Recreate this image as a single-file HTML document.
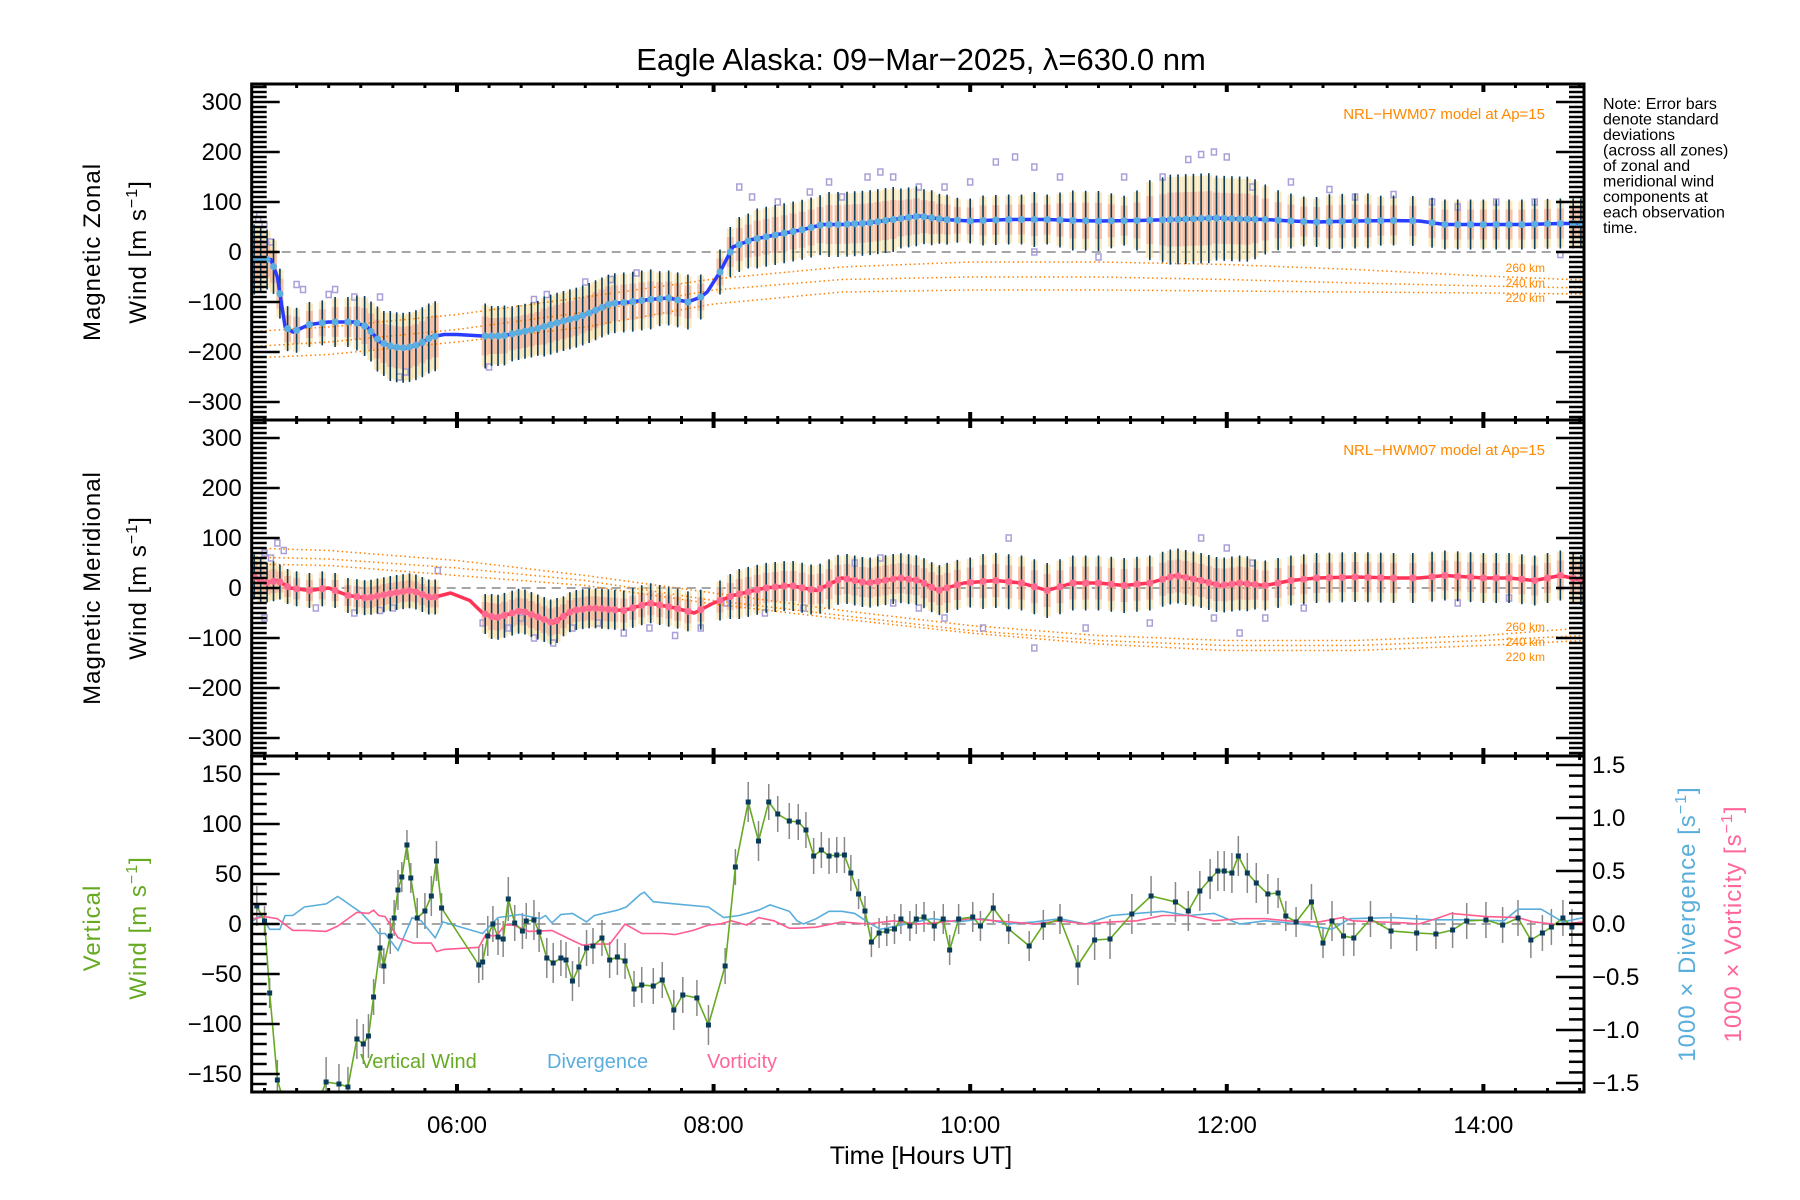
<!DOCTYPE html>
<html><head><meta charset="utf-8"><style>
html,body{margin:0;padding:0;background:#fff;}
svg{display:block;font-family:"Liberation Sans",sans-serif;}
</style></head><body>
<svg id="chart" width="1800" height="1200" viewBox="0 0 1800 1200" xmlns="http://www.w3.org/2000/svg">
<defs>
<clipPath id="clipP1"><rect x="252" y="84" width="1332" height="336"/></clipPath>
<clipPath id="clipP2"><rect x="252" y="420" width="1332" height="336"/></clipPath>
<clipPath id="clipP3"><rect x="252" y="756" width="1332" height="336"/></clipPath>
</defs>
<text x="921" y="70" font-size="31" text-anchor="middle">Eagle Alaska: 09−Mar−2025, λ=630.0 nm</text>
<g font-size="16">
<text x="1603" y="109">Note: Error bars</text>
<text x="1603" y="124.5">denote standard</text>
<text x="1603" y="140">deviations</text>
<text x="1603" y="155.5">(across all zones)</text>
<text x="1603" y="171">of zonal and</text>
<text x="1603" y="186.5">meridional wind</text>
<text x="1603" y="202">components at</text>
<text x="1603" y="217.5">each observation</text>
<text x="1603" y="233">time.</text>
</g>
<g id="p1" clip-path="url(#clipP1)"></g>
<g id="p2" clip-path="url(#clipP2)"></g>
<g id="p3" clip-path="url(#clipP3)"></g>
<g id="axes"></g>
<g font-size="24" letter-spacing="1">
<text transform="translate(100,252) rotate(-90)" text-anchor="middle">Magnetic Zonal</text>
<text transform="translate(146,252) rotate(-90)" text-anchor="middle">Wind [m s<tspan dy="-9" font-size="16">−1</tspan><tspan dy="9">]</tspan></text>
<text transform="translate(100,588) rotate(-90)" text-anchor="middle">Magnetic Meridional</text>
<text transform="translate(146,588) rotate(-90)" text-anchor="middle">Wind [m s<tspan dy="-9" font-size="16">−1</tspan><tspan dy="9">]</tspan></text>
<text transform="translate(100,928) rotate(-90)" text-anchor="middle" fill="#66aa22">Vertical</text>
<text transform="translate(146,928) rotate(-90)" text-anchor="middle" fill="#66aa22">Wind [m s<tspan dy="-9" font-size="16">−1</tspan><tspan dy="9">]</tspan></text>
<text transform="translate(1695,924) rotate(-90)" text-anchor="middle" fill="#5aaedc">1000 × Divergence [s<tspan dy="-9" font-size="16">−1</tspan><tspan dy="9">]</tspan></text>
<text transform="translate(1741,924) rotate(-90)" text-anchor="middle" fill="#ff6699">1000 × Vorticity [s<tspan dy="-9" font-size="16">−1</tspan><tspan dy="9">]</tspan></text>
</g>
<text x="921" y="1164" font-size="25" text-anchor="middle">Time [Hours UT]</text>
<g font-size="15" fill="#ff8800">
<text x="1545" y="119" text-anchor="end">NRL−HWM07 model at Ap=15</text>
<text x="1545" y="455" text-anchor="end">NRL−HWM07 model at Ap=15</text>
<g font-size="12">
<text x="1545" y="272" text-anchor="end">260 km</text>
<text x="1545" y="287" text-anchor="end">240 km</text>
<text x="1545" y="302" text-anchor="end">220 km</text>
<text x="1545" y="631" text-anchor="end">260 km</text>
<text x="1545" y="646" text-anchor="end">240 km</text>
<text x="1545" y="661" text-anchor="end">220 km</text>
</g></g>
<g font-size="20">
<text x="360" y="1068" fill="#66aa22">Vertical Wind</text>
<text x="547" y="1068" fill="#5aaedc">Divergence</text>
<text x="707" y="1068" fill="#ff6699">Vorticity</text>
</g>
</svg>
<script>
// ---------- DATA ----------
const zMeanT=[4.40,4.50,4.55,4.60,4.66,4.72,4.85,5.0,5.2,5.3,5.4,5.5,5.6,5.7,5.8,5.9,6.0,6.2,6.35,6.5,6.6,6.8,6.95,7.05,7.2,7.35,7.5,7.65,7.8,7.9,7.95,8.05,8.15,8.3,8.5,8.7,8.85,9.0,9.2,9.4,9.6,9.8,10.0,10.3,10.6,10.8,11.0,11.3,11.6,11.9,12.1,12.3,12.5,12.7,13.0,13.3,13.5,13.7,14.0,14.3,14.6,14.78];
const zMeanV=[-15,-15,-15,-50,-150,-160,-145,-140,-140,-150,-180,-190,-192,-185,-170,-165,-165,-168,-168,-160,-155,-140,-130,-120,-103,-100,-95,-92,-100,-90,-80,-40,10,25,35,45,55,55,58,65,72,65,62,65,65,63,62,63,65,68,66,65,62,60,62,63,62,55,55,55,57,57];
const obsT=[4.42,4.47,4.52,4.57,4.62,4.68,4.75,4.85,4.95,5.05,5.15,5.22,5.28,5.33,5.38,5.43,5.48,5.53,5.58,5.63,5.68,5.73,5.78,5.83,6.22,6.27,6.32,6.37,6.43,6.48,6.53,6.58,6.63,6.68,6.73,6.78,6.83,6.88,6.93,6.98,7.03,7.08,7.13,7.18,7.23,7.3,7.37,7.44,7.51,7.58,7.65,7.72,7.8,7.9,8.05,8.13,8.2,8.27,8.34,8.41,8.48,8.55,8.62,8.69,8.76,8.83,8.9,8.97,9.04,9.1,9.16,9.22,9.28,9.34,9.4,9.46,9.52,9.58,9.64,9.7,9.76,9.82,9.9,10.0,10.1,10.2,10.3,10.4,10.5,10.6,10.7,10.8,10.9,11.0,11.1,11.2,11.3,11.4,11.5,11.56,11.62,11.68,11.74,11.8,11.86,11.92,11.98,12.04,12.1,12.16,12.22,12.3,12.4,12.5,12.6,12.7,12.8,12.9,13.0,13.1,13.2,13.3,13.45,13.6,13.7,13.8,13.9,14.0,14.1,14.2,14.3,14.4,14.5,14.6,14.7,14.76];
const zStd=[70,65,60,55,50,45,45,45,45,50,50,55,60,60,65,65,70,70,70,70,70,70,70,70,65,60,60,60,55,55,55,55,55,60,60,60,60,60,60,60,60,60,60,60,60,60,60,60,60,55,55,55,55,45,45,50,55,55,60,60,60,60,60,60,60,60,65,65,65,65,65,65,65,65,65,60,60,60,55,55,50,50,45,45,50,50,50,50,55,50,55,60,60,60,55,50,60,80,85,90,90,90,90,90,90,85,85,85,85,85,80,70,60,55,50,50,55,55,55,55,50,50,50,50,50,50,50,50,50,50,50,50,50,50,50,50];
const zOutT=[4.42,4.45,4.5,4.55,4.75,4.8,5.0,5.05,5.2,5.4,5.55,5.6,6.25,6.6,6.7,7.0,7.2,7.4,8.2,8.3,8.5,8.75,8.9,9.0,9.2,9.3,9.4,9.6,9.8,10.0,10.2,10.35,10.5,10.7,11.2,11.5,11.7,11.8,11.9,12.0,12.2,12.5,12.8,13.0,13.3,13.6,13.8,14.1,14.4,14.6,10.5,11.0];
const zOutV=[75,65,55,20,-65,-75,-85,-75,-90,-90,-250,-240,-230,-95,-85,-60,-55,-42,130,110,100,120,140,110,150,160,150,130,130,140,180,190,170,150,150,150,185,195,200,190,130,140,125,110,115,100,90,100,100,-5,0,-10];
const modelT=[4.4,5,6,7,8,9,10,11,12,13,14,14.78];
const zMod260=[-159,-150,-125,-90,-54,-30,-20,-20,-25,-35,-48,-56];
const zMod240=[-189,-180,-155,-120,-76,-55,-50,-50,-55,-62,-68,-72];
const zMod220=[-212,-205,-180,-150,-104,-80,-76,-76,-78,-80,-82,-84];

const mMeanT=[4.4,4.5,4.6,4.7,4.85,5.0,5.15,5.3,5.5,5.65,5.8,5.95,6.1,6.2,6.3,6.5,6.6,6.75,6.9,7.05,7.3,7.5,7.7,7.85,8.0,8.15,8.4,8.6,8.8,9.0,9.2,9.45,9.6,9.75,9.95,10.2,10.4,10.6,10.8,11.0,11.2,11.4,11.6,11.8,11.95,12.1,12.3,12.5,12.7,13.0,13.3,13.5,13.7,14.0,14.2,14.4,14.6,14.78];
const mMeanV=[25,10,15,0,-5,0,-15,-20,-10,-5,-20,-10,-25,-50,-60,-45,-55,-70,-45,-40,-45,-30,-40,-50,-30,-15,0,5,-5,20,10,20,15,-5,10,15,10,-5,10,10,5,10,25,15,5,10,5,15,20,22,20,20,25,20,20,15,25,15];
const mStd=[45,45,40,40,35,35,35,35,35,35,35,35,35,35,35,35,35,35,35,35,35,35,35,35,40,45,45,45,45,45,45,45,45,45,45,45,40,40,40,40,40,40,40,40,40,40,40,40,40,40,40,40,40,40,40,45,50,50,50,50,50,50,50,50,50,50,50,50,50,50,50,50,50,50,50,50,50,50,50,50,50,50,50,50,55,55,55,55,55,55,55,55,55,55,55,55,55,55,55,55,55,55,55,55,55,55,55,55,55,55,50,50,50,50,50,50,50,50,50,50,50,50,50,50,50,50,50,50,50,50,50,50,50,50,50,50];
const mOutT=[4.5,4.55,4.6,4.65,4.5,4.9,5.2,5.4,5.5,5.85,6.2,6.4,6.5,6.6,6.75,6.9,7.1,7.3,7.5,7.7,7.9,8.1,8.4,8.7,9.1,9.3,9.4,9.6,9.8,10.1,10.3,10.5,10.9,11.4,11.8,12.0,12.1,12.3,11.9,12.2,12.6,13.8,14.2];
const mOutV=[70,60,90,75,-60,-40,-50,-45,-40,35,-70,-80,-60,-100,-110,-80,-70,-90,-80,-95,-80,-30,-50,-40,50,60,-30,-40,-60,-80,100,-120,-80,-70,100,80,-90,-60,-60,50,-40,-30,-20];
const mMod260=[80,75,55,25,-10,-45,-75,-95,-105,-105,-95,-80];
const mMod240=[62,58,40,15,-25,-55,-85,-105,-115,-115,-105,-95];
const mMod220=[48,45,25,5,-32,-62,-90,-112,-125,-125,-115,-105];

const vT=[4.44,4.50,4.54,4.60,4.70,4.85,4.98,5.08,5.15,5.22,5.27,5.31,5.35,5.40,5.43,5.48,5.51,5.54,5.57,5.61,5.64,5.69,5.75,5.80,5.84,5.88,6.17,6.20,6.24,6.28,6.32,6.36,6.40,6.45,6.51,6.54,6.60,6.64,6.70,6.75,6.81,6.85,6.90,6.95,7.01,7.06,7.13,7.19,7.25,7.31,7.38,7.44,7.53,7.60,7.69,7.76,7.87,7.96,8.09,8.17,8.27,8.35,8.43,8.50,8.59,8.66,8.72,8.78,8.84,8.90,8.96,9.02,9.07,9.13,9.18,9.23,9.29,9.35,9.41,9.46,9.53,9.58,9.64,9.72,9.79,9.84,9.91,10.02,10.08,10.18,10.30,10.46,10.57,10.70,10.84,10.97,11.09,11.26,11.41,11.60,11.70,11.79,11.87,11.93,11.98,12.04,12.09,12.16,12.23,12.32,12.40,12.46,12.54,12.66,12.75,12.82,12.91,12.99,13.12,13.28,13.48,13.63,13.76,13.87,14.02,14.15,14.27,14.37,14.46,14.53,14.62,14.69];
const vV=[18,3,-69,-156,-200,-200,-158,-160,-163,-115,-120,-112,-73,-24,-42,-12,6,34,47,79,46,6,13,28,63,16,-41,-38,-12,0,-13,-15,25,1,-7,3,4,-8,-34,-39,-34,-36,-57,-43,-24,-22,-14,-36,-33,-37,-65,-61,-62,-56,-86,-71,-74,-101,-42,57,122,83,122,110,103,102,94,68,74,68,69,69,51,30,13,-18,-9,-7,-5,5,-2,5,7,-2,5,-26,5,7,-2,16,-5,-22,-1,5,-41,-16,-15,10,28,22,13,33,45,53,53,51,68,51,41,30,31,8,2,22,-19,3,-12,-14,5,-7,-9,-10,-6,3,4,-1,6,-16,-9,-3,6,-3];
const vErr=[20,15,15,20,20,20,25,20,20,20,20,22,18,20,18,18,18,20,15,15,15,20,18,20,20,15,18,18,20,18,18,18,22,18,18,18,20,20,20,20,18,18,20,20,18,18,18,18,18,18,18,18,18,18,20,18,18,20,18,18,20,20,18,18,18,18,18,18,18,18,18,18,18,15,15,15,15,15,15,15,15,15,15,15,15,15,15,15,15,15,15,15,15,15,20,20,20,20,20,20,20,20,20,20,20,20,20,20,20,20,15,15,15,18,15,20,20,18,18,18,18,15,18,18,18,18,18,18,18,18,18,18,18,18];
const divT=[4.41,4.47,4.54,4.62,4.66,4.72,4.81,4.98,5.07,5.25,5.32,5.39,5.44,5.54,5.65,5.72,5.83,5.89,6.2,6.32,6.49,6.65,6.69,6.74,6.81,6.90,7.01,7.07,7.25,7.32,7.43,7.46,7.53,7.70,7.96,8.08,8.20,8.35,8.44,8.59,8.65,8.7,8.8,8.9,9.0,9.1,9.2,9.3,9.5,9.7,9.9,10.1,10.3,10.5,10.7,10.9,11.1,11.3,11.5,11.7,11.9,12.1,12.3,12.57,12.72,12.82,12.96,13.30,13.61,13.87,14.16,14.27,14.45,14.62,14.78];
const divV=[0.03,0.08,-0.05,-0.05,0.08,0.08,0.16,0.19,0.26,0.11,0.02,-0.09,-0.09,-0.25,0.06,0.03,-0.13,0.02,-0.09,0.06,0.09,0.05,0.08,0.01,0.09,0.10,0.02,0.08,0.13,0.16,0.28,0.30,0.21,0.19,0.16,0.06,0.08,0.13,0.18,0.12,0.03,0.0,0.05,0.12,0.12,0.10,0.02,-0.05,0.0,0.05,0.02,0.05,0.0,0.02,0.05,0.0,0.08,0.10,0.12,0.08,0.10,0.0,0.03,0.0,-0.03,-0.05,0.05,0.06,0.04,0.04,0.03,0.14,0.14,0.02,0.06];
const vorT=[4.41,4.5,4.60,4.72,4.83,4.98,5.07,5.22,5.31,5.35,5.39,5.44,5.54,5.66,5.80,5.84,5.90,6.17,6.22,6.31,6.37,6.44,6.56,6.74,6.89,6.98,7.07,7.19,7.31,7.44,7.61,7.70,7.84,7.96,8.05,8.14,8.26,8.35,8.47,8.59,8.65,8.8,9.0,9.2,9.4,9.6,9.8,10.0,10.2,10.5,10.7,10.9,11.1,11.3,11.5,11.7,11.9,12.1,12.3,12.57,12.72,12.90,12.98,13.39,13.50,13.63,13.75,14.02,14.27,14.39,14.55,14.62,14.78];
const vorV=[0.05,0.07,0.05,-0.06,-0.06,-0.07,-0.02,0.11,0.10,0.13,0.08,0.07,-0.13,-0.18,-0.18,-0.26,-0.24,-0.22,-0.11,-0.11,-0.01,-0.01,-0.07,-0.06,-0.15,-0.20,-0.19,-0.19,0.0,-0.09,-0.09,-0.10,-0.06,-0.01,0.0,0.03,-0.01,0.06,0.03,-0.04,-0.04,-0.03,0.02,0.0,0.03,0.0,0.02,0.05,0.03,0.0,0.03,0.0,0.02,0.03,0.08,0.08,0.03,0.05,0.05,0.02,0.02,0.06,0.03,0.01,0.0,0.05,0.10,0.07,0.06,0.02,0.0,0.0,0.02];
const xMajor=[6,8,10,12,14];
const xMajorLabels=['06:00','08:00','10:00','12:00','14:00'];
const windTicks=[-300,-200,-100,0,100,200,300];
const vertTicks=[-150,-100,-50,0,50,100,150];
const rightTicks=[-1.5,-1.0,-0.5,0.0,0.5,1.0,1.5];

// ---------- SCALES ----------
const X0=251.7, TX0=4.4, PXH=128.3, XR=1584;
const xs=t=>X0+(t-TX0)*PXH;
const y1=v=>252-v*0.5, y2=v=>588-v*0.5, y3=v=>924-v, y3r=v=>924-v*106;
const NS='http://www.w3.org/2000/svg';
const svg=document.getElementById('chart');
function mk(tag,attrs,parent){const e=document.createElementNS(NS,tag);for(const k in attrs)e.setAttribute(k,attrs[k]);parent.appendChild(e);return e;}
function interp(T,V,t){if(t<=T[0])return V[0];for(let i=1;i<T.length;i++){if(t<=T[i]){const f=(t-T[i-1])/(T[i]-T[i-1]);return V[i-1]+f*(V[i]-V[i-1]);}}return V[V.length-1];}
function pts(T,V,ys){return T.map((t,i)=>xs(t).toFixed(1)+','+ys(V[i]).toFixed(1)).join(' ');}

function windPanel(g,ys,meanT,meanV,std,outT,outV,m1,m2,m3,lineCol,dotCol,prefix){
  let z=mk('line',{x1:X0,x2:XR,y1:ys(0),y2:ys(0),stroke:'#888','stroke-width':1.5,'stroke-dasharray':'9,6'},g);
  
  
  obsT.forEach((t,i)=>{
    const c=interp(meanT,meanV,t), s=std[i]||50, x=xs(t);
    let r1=mk('rect',{x:x-3.5,y:ys(c+s*0.95),width:7,height:s*0.95,fill:'#f8dc98','fill-opacity':0.6},g);
    
    
    let r2=mk('rect',{x:x-3.5,y:ys(c+s*0.6),width:7,height:s*0.6,fill:'#f4a090','fill-opacity':0.55},g);
    
    
  });
  outT.forEach((t,i)=>{
    let q=mk('rect',{x:xs(t)-2.5,y:ys(outV[i])-3,width:5,height:6,fill:'none',stroke:'#a8a0d8','stroke-width':1.5},g);
    
    
  });
  [[m1,'260km'],[m2,'240km'],[m3,'220km']].forEach(([m,n])=>{
    let p=mk('polyline',{points:pts(modelT,m,ys),fill:'none',stroke:'#ff8000','stroke-width':1.5,'stroke-dasharray':'1.5,3'},g);
    
    
  });
  obsT.forEach((t,i)=>{
    const c=interp(meanT,meanV,t), s=std[i]||50, x=xs(t);
    let l=mk('line',{x1:x,x2:x,y1:ys(c-s),y2:ys(c+s),stroke:'#0b3d5c','stroke-width':1.6},g);
    
    
  });
  let ml=mk('polyline',{points:pts(meanT,meanV,ys),fill:'none',stroke:lineCol,'stroke-width':3.5,'stroke-linejoin':'round'},g);
  
  
  obsT.forEach((t,i)=>{
    let c=mk('circle',{cx:xs(t),cy:ys(interp(meanT,meanV,t)),r:3.5,fill:dotCol},g);
    
    
  });
}
windPanel(document.getElementById('p1'),y1,zMeanT,zMeanV,zStd,zOutT,zOutV,zMod260,zMod240,zMod220,'#2a3cff','#5aaee0','zonal');
windPanel(document.getElementById('p2'),y2,mMeanT,mMeanV,mStd,mOutT,mOutV,mMod260,mMod240,mMod220,'#ff3355','#ff6a90','meridional');

// panel 3
const g3=document.getElementById('p3');
let z3=mk('line',{x1:X0,x2:XR,y1:y3(0),y2:y3(0),stroke:'#888','stroke-width':1.5,'stroke-dasharray':'9,6'},g3);


vT.forEach((t,i)=>{
  const e=vErr[i]||18;
  let l=mk('line',{x1:xs(t),x2:xs(t),y1:y3(vV[i]-e),y2:y3(vV[i]+e),stroke:'#888','stroke-width':1.5},g3);
  
  
});
let dl=mk('polyline',{points:pts(divT,divV,y3r),fill:'none',stroke:'#5aaedc','stroke-width':1.6},g3);


let vl=mk('polyline',{points:pts(vorT,vorV,y3r),fill:'none',stroke:'#ff5c8f','stroke-width':1.6},g3);


let wl=mk('polyline',{points:pts(vT,vV,y3),fill:'none',stroke:'#66aa22','stroke-width':1.6},g3);


vT.forEach((t,i)=>{
  let r=mk('rect',{x:xs(t)-2.5,y:y3(vV[i])-2.5,width:5,height:5,fill:'#0a3a5a'},g3);
  
  
});

// ---------- AXES ----------
const ax=document.getElementById('axes');
const panels=[[84,420],[420,756],[756,1092]];
panels.forEach(([top,bot],pi)=>{
  let fr=mk('rect',{x:X0,y:top,width:XR-X0,height:bot-top,fill:'none',stroke:'#000','stroke-width':3},ax);
  
  
  for(let t=4.5;t<=14.78;t+=0.25){
    const maj=xMajor.some(m=>Math.abs(m-t)<1e-6);
    const L=maj?8:4,w=maj?4:3;
    let a=mk('line',{x1:xs(t),x2:xs(t),y1:top,y2:top+L,stroke:'#000','stroke-width':w},ax);
    
    
    let b=mk('line',{x1:xs(t),x2:xs(t),y1:bot,y2:bot-L,stroke:'#000','stroke-width':w},ax);
    
    
  }
});
function yAxis(ys,top,bot,minor,major,ticks,fmt,side,name){
  const vmin=Math.ceil(Math.min(...ticks)/minor-3)*minor;
  for(let v=vmin; v<=Math.max(...ticks)+3*minor+1e-9; v+=minor){
    const y=ys(v); if(y<top+1||y>bot-1) continue;
    const isMaj=Math.abs(v/major-Math.round(v/major))<1e-6;
    const L=isMaj?28:15;
    const x=side==='l'?X0:XR, dx=side==='l'?L:-L;
    let t=mk('line',{x1:x,x2:x+dx,y1:y,y2:y,stroke:'#000','stroke-width':2.5},ax);
    
    
  }
  if(fmt){ticks.forEach(v=>{
    const s=fmt(v);
    let tx=mk('text',{x:side==='l'?X0-10:XR+8,y:ys(v)+8,'font-size':24,'text-anchor':side==='l'?'end':'start'},ax);
    tx.textContent=s;
    
    
  });}
}
const fmtI=v=>(v<0?'−':'')+Math.abs(v);
const fmtF=v=>(v<0?'−':'')+Math.abs(v).toFixed(1);
yAxis(y1,84,420,10,100,windTicks,fmtI,'l','zonal-y');
yAxis(y1,84,420,10,100,windTicks,null,'r','zonal-y-right');
yAxis(y2,420,756,10,100,windTicks,fmtI,'l','meridional-y');
yAxis(y2,420,756,10,100,windTicks,null,'r','meridional-y-right');
yAxis(y3,756,1092,10,50,vertTicks,fmtI,'l','vertical-y');
yAxis(y3r,756,1092,0.1,0.5,rightTicks,fmtF,'r','divergence-y');
xMajor.forEach((t,i)=>{
  let tx=mk('text',{x:xs(t),y:1133,'font-size':24,'text-anchor':'middle'},ax);
  tx.textContent=xMajorLabels[i];
  
  
});
</script>
</body></html>
